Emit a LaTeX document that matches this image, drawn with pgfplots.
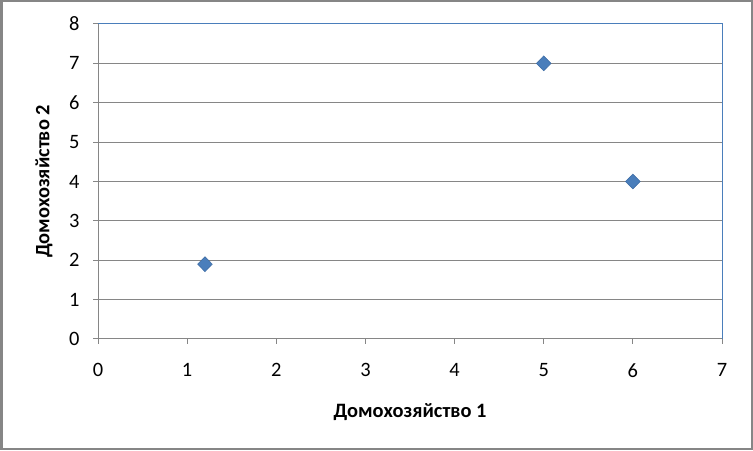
\documentclass[border=0pt]{standalone}
\usepackage{pgfplots}
\pgfplotsset{compat=1.18}
\usepackage{fontspec}
\setmainfont{Carlito}
\definecolor{mk}{HTML}{4A7EBB}
\definecolor{mkd}{HTML}{3D6BA3}
\definecolor{gr}{HTML}{868686}
\definecolor{bl}{HTML}{4A7EBB}
\begin{document}
\begin{tikzpicture}[x=1bp,y=1bp]
\useasboundingbox (0,0) rectangle (753,451);
\draw[gr, line width=2bp] (1.5,1.5) rectangle (751.5,449.5);
\begin{axis}[
  at={(98bp,112bp)}, anchor=south west,
  scale only axis, width=624bp, height=315bp,
  xmin=0, xmax=7, ymin=0, ymax=8,
  xtick={0,...,7}, ytick={0,...,8},
  axis line style={draw=none},
  ymajorgrids, major grid style={gr, line width=1bp},
  tick style={gr, line width=1bp},
  tick align=outside, major tick length=5bp,
  xtick pos=bottom, ytick pos=left,
  clip=false,
  /pgf/number format/assume math mode=true,
  ticklabel style={font=\fontsize{20.5}{20.5}\selectfont, text=black},
  xticklabel style={yshift=-16bp},
  yticklabel style={xshift=-10bp},
  xlabel={Домохозяйство 1}, ylabel={Домохозяйство 2},
  label style={font=\bfseries\fontsize{20.5}{20.5}\selectfont},
  xlabel style={at={(rel axis cs:0.5,-0.232)}, anchor=center},
  ylabel style={at={(rel axis cs:-0.0865,0.5)}, anchor=center, rotate=0},
]
\draw[gr, line width=1bp] (rel axis cs:0,1) -- (rel axis cs:0,0) -- (rel axis cs:1,0);
\draw[bl, line width=1bp] (rel axis cs:0,1) -- (rel axis cs:1,1) -- (rel axis cs:1,0);
\addplot[only marks, mark=diamond*, mark size=7.5bp,
  mark options={xscale=1.3, fill=mk, draw=mkd, line width=0.5bp}]
  coordinates {(1.2,1.9) (5,7) (6,4)};
\end{axis}
\end{tikzpicture}
\end{document}
